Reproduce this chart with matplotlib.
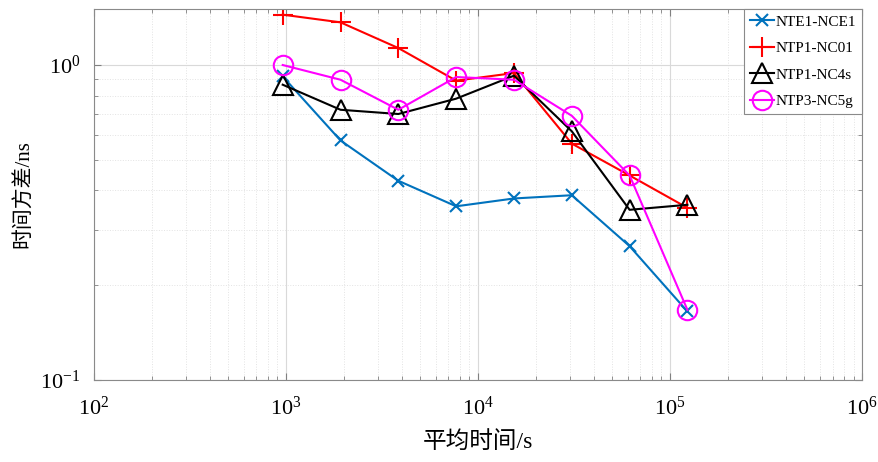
import matplotlib
matplotlib.use('Agg')
import matplotlib.pyplot as plt
import numpy as np
from matplotlib.ticker import LogLocator, NullFormatter

plt.rcParams['font.family'] = ['Liberation Serif', 'Noto Sans CJK SC']
plt.rcParams['mathtext.fontset'] = 'stix'

# averaging time (s)
tau = [960, 1920, 3840, 7680, 15360, 30720, 61440, 122880]

# time deviation (ns)
nte1_nce1 = [0.92, 0.576, 0.429, 0.356, 0.377, 0.386, 0.266, 0.165]
ntp1_nc01 = [1.445, 1.366, 1.132, 0.892, 0.943, 0.563, 0.446, 0.352]
ntp1_nc4s = [0.866, 0.721, 0.699, 0.782, 0.925, 0.616, 0.347, 0.360]
ntp3_nc5g = [1.0, 0.898, 0.721, 0.916, 0.898, 0.690, 0.446, 0.167]

fig = plt.figure(figsize=(8.79, 4.62), dpi=100)
ax = fig.add_axes([0.107, 0.1775, 0.874, 0.803])

ax.loglog(tau, nte1_nce1, color='#0072BD', marker='x', ms=9, mew=1.5, lw=1.5, label='NTE1-NCE1')
ax.loglog(tau, ntp1_nc01, color='#FF0000', marker='+', ms=14, mew=1.5, lw=1.5, label='NTP1-NC01')
ax.loglog(tau, ntp1_nc4s, color='black', marker='^', ms=14, mew=1.5, mfc='none', lw=1.5, label='NTP1-NC4s')
ax.loglog(tau, ntp3_nc5g, color='#FF00FF', marker='o', ms=14, mew=1.5, mfc='none', lw=1.5, label='NTP3-NC5g')

ax.set_xlim(1e2, 1e6)
ax.set_ylim(0.1, 1.506)
ax.xaxis.set_major_locator(LogLocator(base=10, numticks=10))
ax.yaxis.set_major_locator(LogLocator(base=10, numticks=10))
ax.xaxis.set_minor_locator(LogLocator(base=10, subs=np.arange(2, 10), numticks=20))
ax.yaxis.set_minor_locator(LogLocator(base=10, subs=np.arange(2, 10), numticks=20))
ax.xaxis.set_minor_formatter(NullFormatter())
ax.yaxis.set_minor_formatter(NullFormatter())

ax.grid(True, which='major', color='#d9d9d9', lw=0.8, ls='-')
ax.grid(True, which='minor', color='#e3e3e3', lw=0.7, ls=':')
ax.set_axisbelow(True)

ax.tick_params(which='both', direction='in', top=True, right=True, colors='#808080',
               labelcolor='black', labelsize=16)
ax.tick_params(which='major', length=5)
ax.tick_params(which='minor', length=3)
ax.tick_params(axis='x', pad=12)
ax.tick_params(axis='y', pad=10)
for s in ax.spines.values():
    s.set_color('#8a8a8a')
    s.set_linewidth(0.8)

ax.set_xlabel('平均时间/s', fontsize=17, labelpad=8)
ax.set_ylabel('时间方差/ns', fontsize=15, labelpad=5)

leg = ax.legend(loc='upper right', fontsize=11, handlelength=1.6, handletextpad=0.1,
                borderaxespad=0, fancybox=False, framealpha=1, edgecolor='#8a8a8a',
                labelspacing=0.83, borderpad=0.4)
leg.get_frame().set_linewidth(0.8)

fig.savefig('out.png', dpi=100)
